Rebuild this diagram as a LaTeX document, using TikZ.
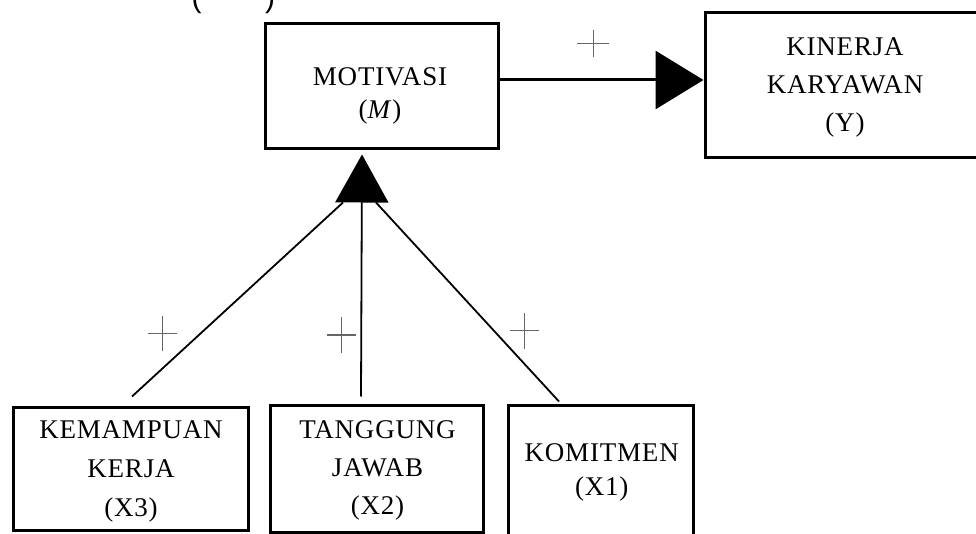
\documentclass[tikz,border=0pt]{standalone}
\usepackage{fontspec}
\usetikzlibrary{arrows.meta}
\newfontfamily\boxfont{Liberation Serif}[LetterSpace=3]
\newfontfamily\capfont{Liberation Sans}
\tikzset{
  vbox/.style={draw=black, line width=3pt, fill=none, inner sep=0pt, minimum width=#1},
  lbl/.style={align=center, inner sep=0pt, font=\boxfont\fontsize{27}{#1}\selectfont},
  conn/.style={draw=black, line width=1.8pt},
  mainarrow/.style={draw=black, line width=3pt, -{Triangle[length=48pt,width=58pt]}},
  uparrow/.style={draw=black, line width=1.8pt, -{Triangle[length=48pt,width=53pt]}},
  paren/.style={inner sep=0pt, anchor=south, font=\capfont\fontsize{30}{36}\selectfont},
  pics/plusmark/.style n args={2}{code={
    \draw[gray!80!black, line width=1pt] (-#1/2,0) -- (#1/2,0);
    \draw[gray!80!black, line width=1pt] (0,-#2/2) -- (0,#2/2);
  }}
}
\begin{document}
\begin{tikzpicture}[x=1pt, y=1pt]
\useasboundingbox (0,0) rectangle (976,533);
% cut-off caption at the top
\node[paren] (pl) at (196.5,519) {(};
\node[paren] (pr) at (270,519) {)};
% boxes
\node[vbox=233pt, minimum height=125pt] (M) at (381.5,446.5) {};
\node[vbox=280pt, minimum height=145pt] (Y) at (845,447.5) {};
\node[vbox=235pt, minimum height=123pt] (X3) at (130.5,64.5) {};
\node[vbox=213pt, minimum height=127pt] (X2) at (376.5,64.5) {};
\node[vbox=185pt, minimum height=130pt] (X1) at (600.5,63) {};
% labels
\node[lbl=33] (Mt) at (380,437) {MOTIVASI\\(\textit{M})};
\node[lbl=38] (Yt) at (845,446) {KINERJA\\KARYAWAN\\(Y)};
\node[lbl=39] (X3t) at (131,62) {KEMAMPUAN\\KERJA\\(X3)};
\node[lbl=38] (X2t) at (377.5,63) {TANGGUNG\\JAWAB\\(X2)};
\node[lbl=34] (X1t) at (601.7,60.5) {KOMITMEN\\(X1)};
% connectors
\draw[mainarrow] ([yshift=6.5pt]M.east) -- ([yshift=5.5pt]Y.west);
\coordinate (tip) at ([shift={(-19.5pt,-4pt)}]M.south);
\coordinate (baseL) at ([shift={(-19pt,-48pt)}]tip);
\coordinate (baseR) at ([shift={(14pt,-48pt)}]tip);
\coordinate (b3) at ([shift={(1.5pt,9pt)}]X3.north);
\coordinate (b2) at ([shift={(-15.5pt,7pt)}]X2.north);
\coordinate (b1) at ([shift={(-41.5pt,2pt)}]X1.north);
\draw[uparrow] (b2) -- (tip);
\draw[conn] (b3) -- (baseL);
\draw[conn] (b1) -- (baseR);
% plus signs
\pic at (593,489) {plusmark={32}{27}};
\pic at (162,199.5) {plusmark={29}{35}};
\pic at (341.5,198) {plusmark={29}{35}};
\pic at (524.5,202) {plusmark={29}{35}};
\end{tikzpicture}
\end{document}
